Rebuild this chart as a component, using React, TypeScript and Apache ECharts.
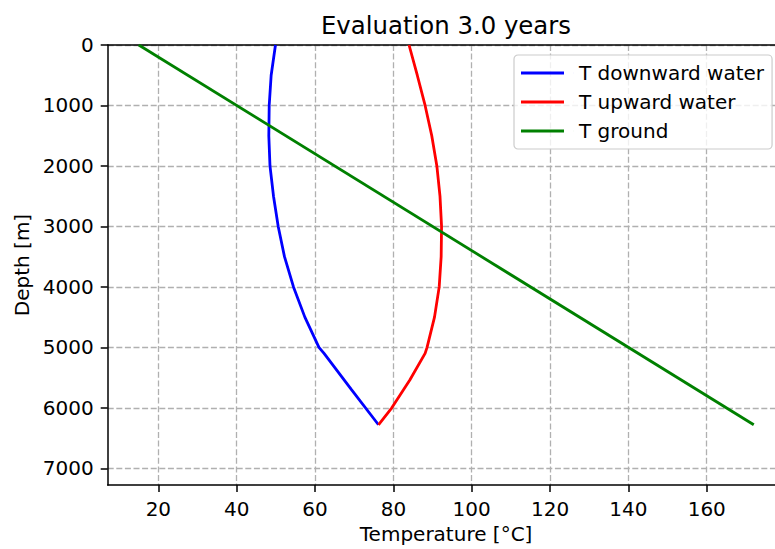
import React, { useEffect, useRef } from "react";
import * as echarts from "echarts";

const depthDown = [0, 500, 1000, 1500, 2000, 2500, 3000, 3500, 4000, 4500, 5000, 5100, 5700, 6280];
const tempDown = [49.9, 48.8, 48.3, 48.2, 48.5, 49.4, 50.6, 52.2, 54.5, 57.4, 61.0, 62.3, 69.3, 76.2];

const depthUp = [0, 500, 1000, 1500, 2000, 2500, 3000, 3500, 4000, 4500, 5000, 5100, 5540, 6000, 6280];
const tempUp = [84.0, 86.1, 88.1, 89.8, 91.1, 91.9, 92.3, 92.2, 91.7, 90.5, 88.6, 88.1, 84.2, 79.6, 76.2];

const depthGround = [0, 6280];
const tempGround = [15, 172];

const xTicks = [20, 40, 60, 80, 100, 120, 140, 160];
const yTicks = [0, 1000, 2000, 3000, 4000, 5000, 6000, 7000];

const seriesNames = ["T downward water", "T upward water", "T ground"];
const seriesColors = ["#0000ff", "#ff0000", "#008000"];

const FONT = "DejaVu Sans";
const X_MIN = 7.07;
const X_MAX = 179.85;

function pairs(xs: number[], ys: number[]) {
  return xs.map((x, i) => [x, ys[i]]);
}

export default function App() {
  const ref = useRef<HTMLDivElement>(null);
  useEffect(() => {
    if (!ref.current) return;
    const chart = echarts.init(ref.current, undefined, { renderer: "svg" });
    const datasets = [
      pairs(tempDown, depthDown),
      pairs(tempUp, depthUp),
      pairs(tempGround, depthGround),
    ];
    const gridLine = { show: true, lineStyle: { color: "#b0b0b0", width: 1.3, type: [6, 2.6] as any } };
    chart.setOption({
      animation: false,
      textStyle: { fontFamily: FONT },
      grid: {
        left: 107.7,
        top: 45,
        bottom: 64,
        right: 0.5,
        containLabel: false,
        outerBoundsMode: "none",
      },
      graphic: [
        {
          type: "text",
          x: 446,
          y: 25,
          style: {
            text: "Evaluation 3.0 years",
            font: `24.4px "${FONT}"`,
            fill: "#000",
            textAlign: "center",
            textVerticalAlign: "middle",
          },
        },
      ],
      legend: {
        orient: "vertical",
        left: 514,
        top: 55,
        padding: [8, 8, 8, 7],
        itemWidth: 53,
        itemHeight: 2.8,
        itemGap: 9,
        icon: "path://M0,0H43V1H0ZM52.98,0H53V1H52.98Z",
        symbolKeepAspect: false,
        backgroundColor: "rgba(255,255,255,0.8)",
        borderColor: "#cccccc",
        borderWidth: 1.2,
        borderRadius: 4,
        textStyle: { fontFamily: FONT, fontSize: 20, color: "#000" },
        data: seriesNames,
      },
      xAxis: [
        {
          type: "value",
          min: X_MIN,
          max: X_MAX,
          splitNumber: 9,
          minInterval: 20,
          maxInterval: 20,
          name: "Temperature [°C]",
          nameLocation: "middle",
          nameGap: 35,
          nameTextStyle: { fontFamily: FONT, fontSize: 20, color: "#000" },
          axisLine: { show: true, onZero: false, lineStyle: { color: "#000", width: 1.5 } },
          axisTick: { show: true, length: 7, customValues: xTicks, lineStyle: { color: "#000", width: 1.5 } },
          axisLabel: {
            customValues: xTicks,
            showMinLabel: true,
            showMaxLabel: true,
            margin: 14,
            fontFamily: FONT,
            fontSize: 20,
            color: "#000",
            formatter: (v: number) => String(v),
          },
          splitLine: gridLine,
        },
        {
          type: "value",
          position: "top",
          min: X_MIN,
          max: X_MAX,
          axisLine: { show: true, onZero: false, lineStyle: { color: "#000", width: 1.5 } },
          axisTick: { show: false },
          axisLabel: { show: false },
          splitLine: { show: false },
        },
      ],
      yAxis: {
        type: "value",
        inverse: true,
        min: 0,
        max: 7276,
        splitNumber: 7,
        minInterval: 1000,
        maxInterval: 1000,
        name: "Depth [m]",
        nameLocation: "middle",
        nameGap: 74,
        nameTextStyle: { fontFamily: FONT, fontSize: 20, color: "#000" },
        axisLine: { show: true, onZero: false, lineStyle: { color: "#000", width: 1.5 } },
        axisTick: { show: true, length: 7, customValues: yTicks, lineStyle: { color: "#000", width: 1.5 } },
        axisLabel: {
          customValues: yTicks,
          showMinLabel: true,
          showMaxLabel: true,
          margin: 14,
          fontFamily: FONT,
          fontSize: 20,
          color: "#000",
          formatter: (v: number) => String(v),
        },
        splitLine: gridLine,
      },
      series: datasets.map((d, i) => ({
        name: seriesNames[i],
        type: "line",
        xAxisIndex: 0,
        data: d,
        showSymbol: false,
        symbol: "none",
        smooth: false,
        color: seriesColors[i],
        lineStyle: { color: seriesColors[i], width: 2.8 },
        z: 2 + i,
      })),
    });
    return () => chart.dispose();
  }, []);
  return (
    <div
      style={{ position: "fixed", left: 0, top: 0, width: 775, height: 549, overflow: "hidden", background: "#fff" }}
    >
      <div ref={ref} style={{ width: 785, height: 549 }} />
    </div>
  );
}
